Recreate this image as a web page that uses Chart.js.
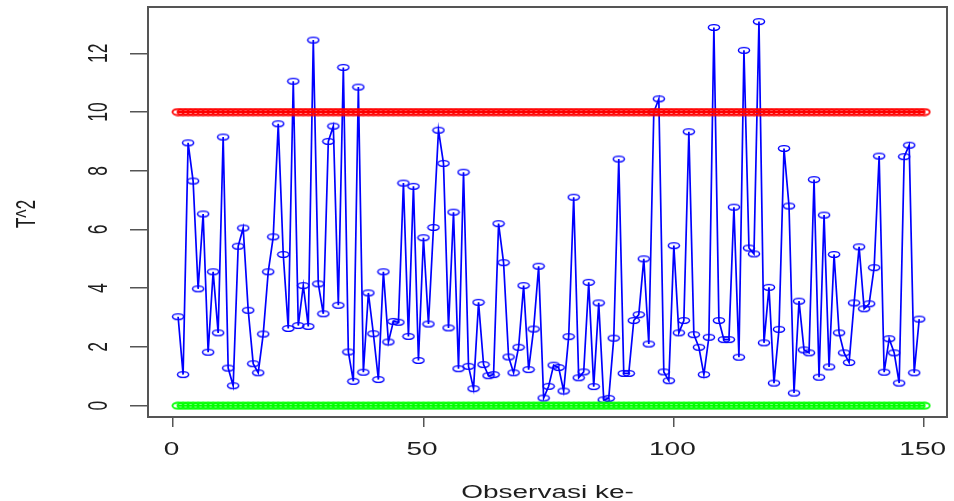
<!DOCTYPE html>
<html>
<head>
<meta charset="utf-8">
<script src="https://cdn.jsdelivr.net/npm/chart.js@4/dist/chart.umd.min.js"></script>
<style>
html,body{margin:0;padding:0;background:#ffffff;}
#wrap{width:954px;height:501px;overflow:hidden;}
</style>
</head>
<body>
<div id="wrap"><canvas id="c" width="954" height="501"></canvas></div>
<script>
// ---- data ----
const t2Values = [
  3.03, 1.06, 8.95, 7.65, 3.98, 6.53, 1.82, 4.56, 2.48, 9.15,
  1.28, 0.68, 5.43, 6.05, 3.25, 1.43, 1.12, 2.44, 4.56, 5.75,
  9.60, 5.15, 2.63, 11.05, 2.73, 4.09, 2.70, 12.45, 4.15, 3.13,
  9.00, 9.52, 3.42, 11.52, 1.83, 0.83, 10.85, 1.14, 3.84, 2.45,
  0.89, 4.56, 2.17, 2.87, 2.84, 7.58, 2.36, 7.47, 1.54, 5.72,
  2.78, 6.07, 9.38, 8.25, 2.65, 6.59, 1.26, 7.95, 1.34, 0.58,
  3.52, 1.40, 1.02, 1.06, 6.20, 4.87, 1.66, 1.12, 1.99, 4.09,
  1.23, 2.61, 4.75, 0.26, 0.66, 1.38, 1.30, 0.50, 2.35, 7.10,
  0.95, 1.15, 4.20, 0.65, 3.50, 0.20, 0.25, 2.30, 8.40, 1.10,
  1.10, 2.90, 3.10, 5.00, 2.10, 10.00, 10.45, 1.15, 0.85, 5.45,
  2.48, 2.90, 9.33, 2.42, 1.99, 1.06, 2.33, 12.88, 2.90, 2.25,
  2.25, 6.76, 1.65, 12.10, 5.37, 5.17, 13.08, 2.14, 4.03, 0.77,
  2.60, 8.76, 6.80, 0.43, 3.56, 1.90, 1.80, 7.70, 0.97, 6.49,
  1.32, 5.15, 2.48, 1.80, 1.47, 3.50, 5.41, 3.30, 3.47, 4.70,
  8.50, 1.14, 2.28, 1.80, 0.77, 8.48, 8.87, 1.12, 2.95
];
const uclValues = [
  10,10,10,10,10,10,10,10,10,10,10,10,10,10,10,
  10,10,10,10,10,10,10,10,10,10,10,10,10,10,10,
  10,10,10,10,10,10,10,10,10,10,10,10,10,10,10,
  10,10,10,10,10,10,10,10,10,10,10,10,10,10,10,
  10,10,10,10,10,10,10,10,10,10,10,10,10,10,10,
  10,10,10,10,10,10,10,10,10,10,10,10,10,10,10,
  10,10,10,10,10,10,10,10,10,10,10,10,10,10,10,
  10,10,10,10,10,10,10,10,10,10,10,10,10,10,10,
  10,10,10,10,10,10,10,10,10,10,10,10,10,10,10,
  10,10,10,10,10,10,10,10,10,10,10,10,10,10,10
];
const lclValues = [
  0,0,0,0,0,0,0,0,0,0,0,0,0,0,0,
  0,0,0,0,0,0,0,0,0,0,0,0,0,0,0,
  0,0,0,0,0,0,0,0,0,0,0,0,0,0,0,
  0,0,0,0,0,0,0,0,0,0,0,0,0,0,0,
  0,0,0,0,0,0,0,0,0,0,0,0,0,0,0,
  0,0,0,0,0,0,0,0,0,0,0,0,0,0,0,
  0,0,0,0,0,0,0,0,0,0,0,0,0,0,0,
  0,0,0,0,0,0,0,0,0,0,0,0,0,0,0,
  0,0,0,0,0,0,0,0,0,0,0,0,0,0,0,
  0,0,0,0,0,0,0,0,0,0,0,0,0,0,0
];
const xTickValues = [0, 50, 100, 150];
const yTickValues = [0, 2, 4, 6, 8, 10, 12];
const xTitle = 'Observasi ke-';
const yTitle = 'T^2';

// ---- helpers ----
const toPoints = arr => arr.map((v, i) => ({ x: i + 1, y: v }));

function ellipseMarker(color, lw, ry) {
  const c = document.createElement('canvas');
  c.width = 14; c.height = 9;
  const g = c.getContext('2d');
  g.strokeStyle = color;
  g.lineWidth = lw;
  g.beginPath();
  g.ellipse(7, 4.5, 5.6, ry, 0, 0, Math.PI * 2);
  g.stroke();
  return c;
}

const FONT = '17.5px "Liberation Sans", Arial, sans-serif';
const SX = 1.6;
const TEXT_COLOR = '#1e1e1e';
const AXIS_COLOR = '#555555';

function stretchedText(ctx, text, x, y, rotate) {
  ctx.save();
  ctx.translate(x, y);
  ctx.scale(SX, 1);
  if (rotate) ctx.rotate(-Math.PI / 2);
  ctx.fillText(text, 0, 0);
  ctx.restore();
}

const framePlugin = {
  id: 'frame',
  afterDatasetsDraw(chart) {
    const { ctx, chartArea: a } = chart;
    ctx.save();
    ctx.strokeStyle = AXIS_COLOR;
    ctx.lineWidth = 2;
    ctx.strokeRect(a.left, a.top, a.right - a.left, a.bottom - a.top);
    ctx.restore();
  }
};

const textPlugin = {
  id: 'rtext',
  afterDraw(chart) {
    const ctx = chart.ctx;
    const xs = chart.scales.x, ys = chart.scales.y;
    const a = chart.chartArea;
    ctx.save();
    ctx.fillStyle = TEXT_COLOR;
    ctx.font = FONT;
    ctx.textAlign = 'center';
    ctx.textBaseline = 'alphabetic';
    xTickValues.forEach(v => stretchedText(ctx, String(v), xs.getPixelForValue(v) - 1.5, 455, false));
    yTickValues.forEach(v => stretchedText(ctx, String(v), 106.5, ys.getPixelForValue(v), true));
    stretchedText(ctx, xTitle, (a.left + a.right) / 2, 497.5, false);
    stretchedText(ctx, yTitle, 35, (a.top + a.bottom) / 2 + 2, true);
    ctx.restore();
  }
};

new Chart(document.getElementById('c'), {
  type: 'line',
  data: {
    datasets: [
      { data: toPoints(uclValues), borderColor: '#ff0000', borderWidth: 2,
        pointStyle: ellipseMarker('#ff0000', 1.8, 3.0), pointRadius: 5, tension: 0, fill: false },
      { data: toPoints(lclValues), borderColor: '#00ff00', borderWidth: 2,
        pointStyle: ellipseMarker('#00ff00', 1.8, 3.0), pointRadius: 5, tension: 0, fill: false },
      { data: toPoints(t2Values), borderColor: '#0000ff', borderWidth: 1.7,
        pointStyle: ellipseMarker('#0000ff', 1.4, 2.9), pointRadius: 5, tension: 0, fill: false }
    ]
  },
  options: {
    responsive: false,
    animation: false,
    devicePixelRatio: 1,
    layout: { padding: { left: 0, top: 7, right: 1, bottom: 0 } },
    plugins: { legend: { display: false }, tooltip: { enabled: false } },
    scales: {
      x: {
        type: 'linear', min: -5.01, max: 154.55,
        afterBuildTicks: s => { s.ticks = xTickValues.map(v => ({ value: v })); },
        afterFit: s => { s.height = 84; },
        ticks: { display: false },
        grid: { drawOnChartArea: false, drawTicks: true, tickLength: 10, color: AXIS_COLOR, lineWidth: 1.5 },
        border: { display: false }
      },
      y: {
        type: 'linear', min: -0.385, max: 13.577,
        afterBuildTicks: s => { s.ticks = yTickValues.map(v => ({ value: v })); },
        afterFit: s => { s.width = 148; },
        ticks: { display: false },
        grid: { drawOnChartArea: false, drawTicks: true, tickLength: 18, color: AXIS_COLOR, lineWidth: 1.5 },
        border: { display: false }
      }
    }
  },
  plugins: [framePlugin, textPlugin]
});
</script>
</body>
</html>
